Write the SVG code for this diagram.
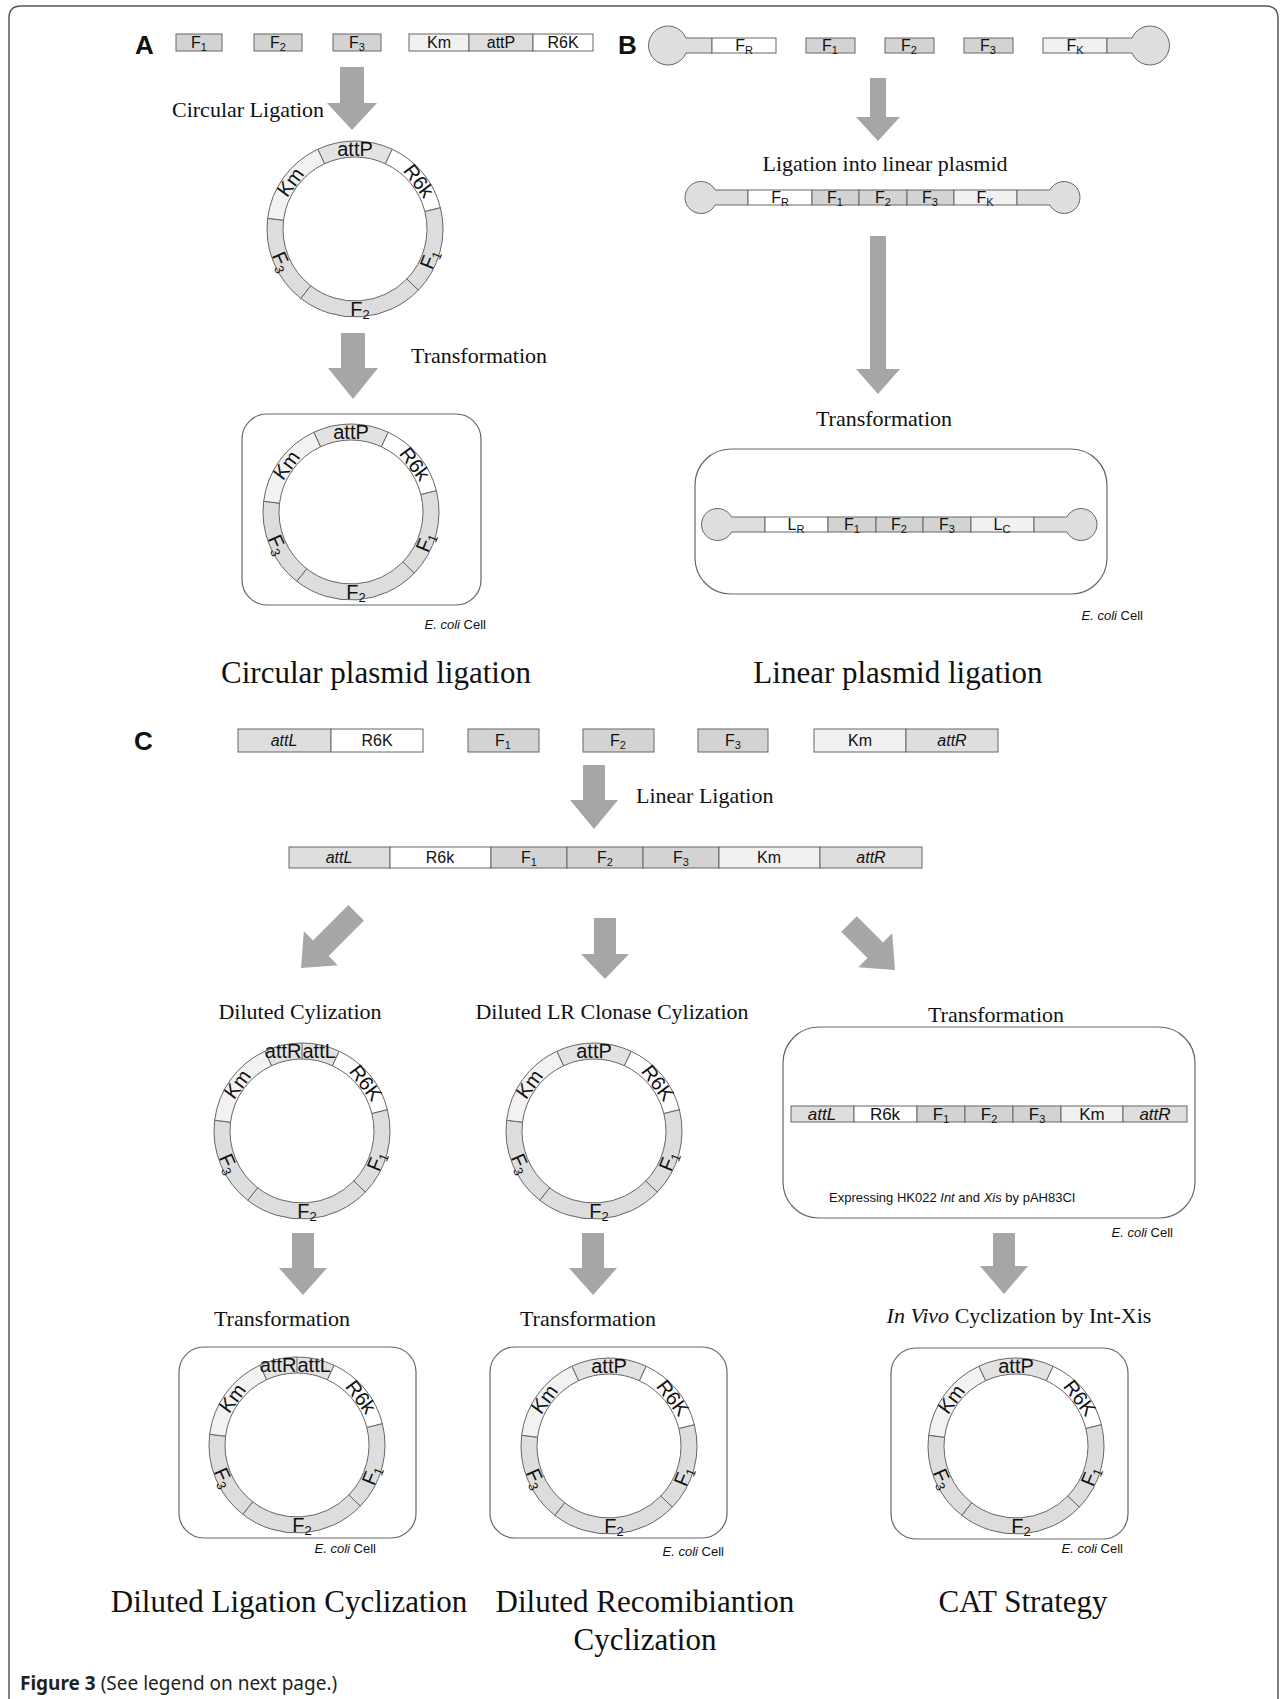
<svg xmlns="http://www.w3.org/2000/svg" width="1281" height="1699" viewBox="0 0 1281 1699">
<style>
.seg{stroke:#666;stroke-width:1}
.dk{fill:#d3d3d3}.md{fill:#dedede}.lt{fill:#f1f1f1}.wh{fill:#fff}
.rd{fill:#dddddd}.rm{fill:#e2e2e2}.rlt{fill:#f2f2f2}
.arr{fill:#a6a6a6}
.cell{fill:none;stroke:#666;stroke-width:1.2}
.lb{font-family:"Liberation Sans",Arial,sans-serif;font-size:16px;fill:#111;text-anchor:middle}
.lb17{font-family:"Liberation Sans",Arial,sans-serif;font-size:17px;fill:#111;text-anchor:middle}
.sb{font-size:11px}
.rs{font-size:13px}
.rl{font-family:"Liberation Sans",Arial,sans-serif;font-size:20px;fill:#111;text-anchor:middle}
.ser{font-family:"Liberation Serif","Times New Roman",serif;font-size:22px;fill:#111}
.ttl{font-family:"Liberation Serif","Times New Roman",serif;font-size:31px;fill:#111;text-anchor:middle}
.eco{font-family:"Liberation Sans",Arial,sans-serif;font-size:13px;fill:#111;text-anchor:end}
.pl{font-family:"Liberation Sans",Arial,sans-serif;font-size:26px;font-weight:bold;fill:#111}
</style>
<defs>
<g id="ringP" class="seg">
<path class="rm" d="M -37.19,-79.75 A 88 88 0 0 1 37.19,-79.75 L 30.43,-65.25 A 72 72 0 0 0 -30.43,-65.25 Z"/>
<path class="wh" d="M 37.19,-79.75 A 88 88 0 0 1 85.39,-21.29 L 69.86,-17.42 A 72 72 0 0 0 30.43,-65.25 Z"/>
<path class="rd" d="M 85.39,-21.29 A 88 88 0 0 1 63.30,61.13 L 51.79,50.02 A 72 72 0 0 0 69.86,-17.42 Z"/>
<path class="rd" d="M 63.30,61.13 A 88 88 0 0 1 -54.18,69.34 L -44.33,56.74 A 72 72 0 0 0 51.79,50.02 Z"/>
<path class="rd" d="M -54.18,69.34 A 88 88 0 0 1 -87.34,-10.73 L -71.46,-8.77 A 72 72 0 0 0 -44.33,56.74 Z"/>
<path class="rlt" d="M -87.34,-10.73 A 88 88 0 0 1 -37.19,-79.75 L -30.43,-65.25 A 72 72 0 0 0 -71.46,-8.77 Z"/>
</g>
<g id="ringRL">
<use href="#ringP"/>
<line class="seg" x1="0" y1="-88" x2="0" y2="-72"/>
</g>
</defs>

<path d="M 9,1699 V 18 Q 9,6 21,6 H 1266 Q 1278,6 1278,18 V 1699" fill="none" stroke="#555" stroke-width="1.5"/>

<!-- Panel labels -->
<text class="pl" x="135" y="54">A</text>
<text class="pl" x="618" y="54">B</text>
<text class="pl" x="134" y="750">C</text>

<!-- A row 1 -->
<g id="a-frags" class="seg">
<rect class="dk" x="176" y="34" width="46" height="17"/>
<rect class="dk" x="254" y="34" width="48" height="17"/>
<rect class="dk" x="333" y="34" width="48" height="17"/>
<rect class="lt" x="409" y="34" width="60" height="17"/>
<rect class="md" x="469" y="34" width="64" height="17"/>
<rect class="wh" x="533" y="34" width="60" height="17"/>
<g stroke="none">
<text class="lb" x="199" y="48">F<tspan class="sb" dy="3">1</tspan></text>
<text class="lb" x="278" y="48">F<tspan class="sb" dy="3">2</tspan></text>
<text class="lb" x="357" y="48">F<tspan class="sb" dy="3">3</tspan></text>
<text class="lb" x="439" y="48">Km</text>
<text class="lb" x="501" y="48">attP</text>
<text class="lb" x="563" y="48">R6K</text>
</g>
</g>

<!-- Connectors -->
<g id="connectors" class="arr">
<path d="M 340,67 H 364 V 103 H 377 L 352,130 L 327,103 H 340 Z"/>
<path d="M 341,333 H 365 V 368 H 378 L 353,399 L 328,368 H 341 Z"/>
<path d="M 870,78 H 886 V 117 H 900 L 878,141 L 856,117 H 870 Z"/>
<path d="M 870,236 H 886 V 369 H 900 L 878,394 L 856,369 H 870 Z"/>
<path d="M 583,765 H 605 V 800 H 618 L 594,829 L 570,800 H 583 Z"/>
<path d="M 594,918 H 616 V 954 H 629 L 605,979 L 581,954 H 594 Z"/>
<path transform="translate(301,968) rotate(45)" d="M -11,-78 H 11 V -28 H 24 L 0,0 L -24,-28 H -11 Z"/>
<path transform="translate(895,970) rotate(-45)" d="M -11,-65 H 11 V -28 H 24 L 0,0 L -24,-28 H -11 Z"/>
<path d="M 292,1233 H 314 V 1268 H 327 L 303,1295 L 279,1268 H 292 Z"/>
<path d="M 582,1233 H 604 V 1268 H 617 L 593,1295 L 569,1268 H 582 Z"/>
<path d="M 993,1233 H 1015 V 1266 H 1028 L 1004,1294 L 980,1266 H 993 Z"/>
</g>

<text class="ser" x="172" y="117">Circular Ligation</text>
<text class="ser" x="411" y="363">Transformation</text>

<!-- A plasmid 1 -->
<g id="a-plasmid" transform="translate(355,229)">
<use href="#ringP"/>
<text class="rl" x="0" y="-73">attP</text>
<text class="rl" transform="rotate(53) translate(0,-80)" y="7">R6k</text>
<text class="rl" transform="rotate(112) translate(0,-80) rotate(180)" y="7">F<tspan class="rs" dy="3">1</tspan></text>
<text class="rl" x="5" y="87">F<tspan class="rs" dy="3">2</tspan></text>
<text class="rl" transform="rotate(246) translate(0,-80) rotate(180)" y="7">F<tspan class="rs" dy="3">3</tspan></text>
<text class="rl" transform="rotate(306) translate(0,-80)" y="7">Km</text>
</g>

<!-- A cell -->
<g id="a-cell">
<rect class="cell" x="242" y="414" width="239" height="191" rx="25"/>
<g transform="translate(351,512)">
<use href="#ringP"/>
<text class="rl" x="0" y="-73">attP</text>
<text class="rl" transform="rotate(53) translate(0,-80)" y="7">R6k</text>
<text class="rl" transform="rotate(112) translate(0,-80) rotate(180)" y="7">F<tspan class="rs" dy="3">1</tspan></text>
<text class="rl" x="5" y="87">F<tspan class="rs" dy="3">2</tspan></text>
<text class="rl" transform="rotate(246) translate(0,-80) rotate(180)" y="7">F<tspan class="rs" dy="3">3</tspan></text>
<text class="rl" transform="rotate(306) translate(0,-80)" y="7">Km</text>
</g>
<text class="eco" x="486" y="629"><tspan font-style="italic">E. coli</tspan> Cell</text>
</g>
<text class="ttl" x="376" y="683">Circular plasmid ligation</text>

<!-- B row 1 -->
<g id="b-frags" class="seg">
<path class="md" d="M 712,38 H 686 A 19.5 19.5 0 1 0 686,53 H 712 Z"/>
<rect class="wh" x="712" y="38" width="64" height="15"/>
<rect class="dk" x="806" y="38" width="49" height="15"/>
<rect class="dk" x="885" y="38" width="49" height="15"/>
<rect class="dk" x="964" y="38" width="49" height="15"/>
<rect class="lt" x="1043" y="38" width="64" height="15"/>
<path class="md" d="M 1107,38 H 1132 A 19.5 19.5 0 1 1 1132,53 H 1107 Z"/>
<g stroke="none">
<text class="lb" x="744" y="51">F<tspan class="sb" dy="3">R</tspan></text>
<text class="lb" x="830" y="51">F<tspan class="sb" dy="3">1</tspan></text>
<text class="lb" x="909" y="51">F<tspan class="sb" dy="3">2</tspan></text>
<text class="lb" x="988" y="51">F<tspan class="sb" dy="3">3</tspan></text>
<text class="lb" x="1075" y="51">F<tspan class="sb" dy="3">K</tspan></text>
</g>
</g>

<text class="ser" x="885" y="171" text-anchor="middle">Ligation into linear plasmid</text>

<!-- B linear plasmid -->
<g id="b-linear" class="seg">
<path class="md" d="M 748,190 H 715.13 A 16 16 0 1 0 715.13,205 H 748 Z"/>
<rect class="wh" x="748" y="190" width="64" height="15"/>
<rect class="dk" x="812" y="190" width="47" height="15"/>
<rect class="dk" x="859" y="190" width="48" height="15"/>
<rect class="dk" x="907" y="190" width="47" height="15"/>
<rect class="lt" x="954" y="190" width="63" height="15"/>
<path class="md" d="M 1017,190 H 1049.87 A 16 16 0 1 1 1049.87,205 H 1017 Z"/>
<g stroke="none">
<text class="lb" x="780" y="203">F<tspan class="sb" dy="3">R</tspan></text>
<text class="lb" x="835" y="203">F<tspan class="sb" dy="3">1</tspan></text>
<text class="lb" x="883" y="203">F<tspan class="sb" dy="3">2</tspan></text>
<text class="lb" x="930" y="203">F<tspan class="sb" dy="3">3</tspan></text>
<text class="lb" x="985" y="203">F<tspan class="sb" dy="3">K</tspan></text>
</g>
</g>

<text class="ser" x="884" y="426" text-anchor="middle">Transformation</text>

<!-- B cell -->
<g id="b-cell">
<rect class="cell" x="695" y="449" width="412" height="145" rx="36"/>
<g class="seg">
<path class="md" d="M 765,517 H 731.63 A 16 16 0 1 0 731.63,532 H 765 Z"/>
<rect class="wh" x="765" y="517" width="63" height="15"/>
<rect class="dk" x="828" y="517" width="48" height="15"/>
<rect class="dk" x="876" y="517" width="47" height="15"/>
<rect class="dk" x="923" y="517" width="48" height="15"/>
<rect class="lt" x="971" y="517" width="63" height="15"/>
<path class="md" d="M 1034,517 H 1066.87 A 16 16 0 1 1 1066.87,532 H 1034 Z"/>
</g>
<text class="lb" x="796" y="530">L<tspan class="sb" dy="3">R</tspan></text>
<text class="lb" x="852" y="530">F<tspan class="sb" dy="3">1</tspan></text>
<text class="lb" x="899" y="530">F<tspan class="sb" dy="3">2</tspan></text>
<text class="lb" x="947" y="530">F<tspan class="sb" dy="3">3</tspan></text>
<text class="lb" x="1002" y="530">L<tspan class="sb" dy="3">C</tspan></text>
<text class="eco" x="1143" y="620"><tspan font-style="italic">E. coli</tspan> Cell</text>
</g>
<text class="ttl" x="898" y="683">Linear plasmid ligation</text>

<!-- C row 1 -->
<g id="c-frags" class="seg">
<rect class="md" x="238" y="729" width="93" height="23"/>
<rect class="wh" x="331" y="729" width="92" height="23"/>
<rect class="dk" x="468" y="729" width="71" height="23"/>
<rect class="dk" x="583" y="729" width="71" height="23"/>
<rect class="dk" x="698" y="729" width="70" height="23"/>
<rect class="lt" x="814" y="729" width="92" height="23"/>
<rect class="md" x="906" y="729" width="92" height="23"/>
<g stroke="none">
<text class="lb" x="284" y="746" font-style="italic">attL</text>
<text class="lb" x="377" y="746">R6K</text>
<text class="lb" x="503" y="746">F<tspan class="sb" dy="3">1</tspan></text>
<text class="lb" x="618" y="746">F<tspan class="sb" dy="3">2</tspan></text>
<text class="lb" x="733" y="746">F<tspan class="sb" dy="3">3</tspan></text>
<text class="lb" x="860" y="746">Km</text>
<text class="lb" x="952" y="746" font-style="italic">attR</text>
</g>
</g>
<text class="ser" x="636" y="803">Linear Ligation</text>

<!-- C row 2 -->
<g id="c-linear" class="seg">
<rect class="md" x="289" y="847" width="101" height="21"/>
<rect class="wh" x="390" y="847" width="101" height="21"/>
<rect class="dk" x="491" y="847" width="76" height="21"/>
<rect class="dk" x="567" y="847" width="76" height="21"/>
<rect class="dk" x="643" y="847" width="76" height="21"/>
<rect class="lt" x="719" y="847" width="101" height="21"/>
<rect class="md" x="820" y="847" width="102" height="21"/>
<g stroke="none">
<text class="lb" x="339" y="863" font-style="italic">attL</text>
<text class="lb" x="440" y="863">R6k</text>
<text class="lb" x="529" y="863">F<tspan class="sb" dy="3">1</tspan></text>
<text class="lb" x="605" y="863">F<tspan class="sb" dy="3">2</tspan></text>
<text class="lb" x="681" y="863">F<tspan class="sb" dy="3">3</tspan></text>
<text class="lb" x="769" y="863">Km</text>
<text class="lb" x="871" y="863" font-style="italic">attR</text>
</g>
</g>

<text class="ser" x="300" y="1019" text-anchor="middle">Diluted Cylization</text>
<text class="ser" x="612" y="1019" text-anchor="middle">Diluted LR Clonase Cylization</text>
<text class="ser" x="996" y="1022" text-anchor="middle">Transformation</text>

<!-- C plasmid 1 -->
<g id="c-plasmid1" transform="translate(302,1131)">
<use href="#ringRL"/>
<text class="rl" x="-0.5" y="-73" style="text-anchor:end">attR</text>
<text class="rl" x="0.5" y="-73" style="text-anchor:start">attL</text>
<text class="rl" transform="rotate(53) translate(0,-80)" y="7">R6K</text>
<text class="rl" transform="rotate(112) translate(0,-80) rotate(180)" y="7">F<tspan class="rs" dy="3">1</tspan></text>
<text class="rl" x="5" y="87">F<tspan class="rs" dy="3">2</tspan></text>
<text class="rl" transform="rotate(246) translate(0,-80) rotate(180)" y="7">F<tspan class="rs" dy="3">3</tspan></text>
<text class="rl" transform="rotate(306) translate(0,-80)" y="7">Km</text>
</g>

<!-- C plasmid 2 -->
<g id="c-plasmid2" transform="translate(594,1131)">
<use href="#ringP"/>
<text class="rl" x="0" y="-73">attP</text>
<text class="rl" transform="rotate(53) translate(0,-80)" y="7">R6K</text>
<text class="rl" transform="rotate(112) translate(0,-80) rotate(180)" y="7">F<tspan class="rs" dy="3">1</tspan></text>
<text class="rl" x="5" y="87">F<tspan class="rs" dy="3">2</tspan></text>
<text class="rl" transform="rotate(246) translate(0,-80) rotate(180)" y="7">F<tspan class="rs" dy="3">3</tspan></text>
<text class="rl" transform="rotate(306) translate(0,-80)" y="7">Km</text>
</g>

<!-- C right cell with linear -->
<g id="c-cell-linear">
<rect class="cell" x="783" y="1027" width="412" height="191" rx="36"/>
<g class="seg">
<rect class="md" x="791" y="1106" width="63" height="16"/>
<rect class="wh" x="854" y="1106" width="63" height="16"/>
<rect class="dk" x="917" y="1106" width="48" height="16"/>
<rect class="dk" x="965" y="1106" width="48" height="16"/>
<rect class="dk" x="1013" y="1106" width="48" height="16"/>
<rect class="lt" x="1061" y="1106" width="62" height="16"/>
<rect class="md" x="1123" y="1106" width="64" height="16"/>
</g>
<text class="lb17" x="822" y="1120" font-style="italic">attL</text>
<text class="lb17" x="885" y="1120">R6k</text>
<text class="lb17" x="941" y="1120">F<tspan class="sb" dy="3">1</tspan></text>
<text class="lb17" x="989" y="1120">F<tspan class="sb" dy="3">2</tspan></text>
<text class="lb17" x="1037" y="1120">F<tspan class="sb" dy="3">3</tspan></text>
<text class="lb17" x="1092" y="1120">Km</text>
<text class="lb17" x="1155" y="1120" font-style="italic">attR</text>
<text x="829" y="1202" font-family="Liberation Sans, Arial, sans-serif" font-size="13" fill="#111">Expressing HK022 <tspan font-style="italic">Int</tspan> and <tspan font-style="italic">Xis</tspan> by pAH83CI</text>
<text class="eco" x="1173" y="1237"><tspan font-style="italic">E. coli</tspan> Cell</text>
</g>

<text class="ser" x="282" y="1326" text-anchor="middle">Transformation</text>
<text class="ser" x="588" y="1326" text-anchor="middle">Transformation</text>
<text class="ser" x="1019" y="1323" text-anchor="middle"><tspan font-style="italic">In Vivo</tspan> Cyclization by Int-Xis</text>

<!-- C cell 1 -->
<g id="c-cell1">
<rect class="cell" x="179" y="1347" width="237" height="191" rx="25"/>
<g transform="translate(297,1445)">
<use href="#ringRL"/>
<text class="rl" x="-0.5" y="-73" style="text-anchor:end">attR</text>
<text class="rl" x="0.5" y="-73" style="text-anchor:start">attL</text>
<text class="rl" transform="rotate(53) translate(0,-80)" y="7">R6k</text>
<text class="rl" transform="rotate(112) translate(0,-80) rotate(180)" y="7">F<tspan class="rs" dy="3">1</tspan></text>
<text class="rl" x="5" y="87">F<tspan class="rs" dy="3">2</tspan></text>
<text class="rl" transform="rotate(246) translate(0,-80) rotate(180)" y="7">F<tspan class="rs" dy="3">3</tspan></text>
<text class="rl" transform="rotate(306) translate(0,-80)" y="7">Km</text>
</g>
<text class="eco" x="376" y="1553"><tspan font-style="italic">E. coli</tspan> Cell</text>
</g>

<!-- C cell 2 -->
<g id="c-cell2">
<rect class="cell" x="490" y="1347" width="237" height="191" rx="25"/>
<g transform="translate(609,1446)">
<use href="#ringP"/>
<text class="rl" x="0" y="-73">attP</text>
<text class="rl" transform="rotate(53) translate(0,-80)" y="7">R6K</text>
<text class="rl" transform="rotate(112) translate(0,-80) rotate(180)" y="7">F<tspan class="rs" dy="3">1</tspan></text>
<text class="rl" x="5" y="87">F<tspan class="rs" dy="3">2</tspan></text>
<text class="rl" transform="rotate(246) translate(0,-80) rotate(180)" y="7">F<tspan class="rs" dy="3">3</tspan></text>
<text class="rl" transform="rotate(306) translate(0,-80)" y="7">Km</text>
</g>
<text class="eco" x="724" y="1556"><tspan font-style="italic">E. coli</tspan> Cell</text>
</g>

<!-- C cell 3 -->
<g id="c-cell3">
<rect class="cell" x="891" y="1348" width="237" height="191" rx="25"/>
<g transform="translate(1016,1446)">
<use href="#ringP"/>
<text class="rl" x="0" y="-73">attP</text>
<text class="rl" transform="rotate(53) translate(0,-80)" y="7">R6K</text>
<text class="rl" transform="rotate(112) translate(0,-80) rotate(180)" y="7">F<tspan class="rs" dy="3">1</tspan></text>
<text class="rl" x="5" y="87">F<tspan class="rs" dy="3">2</tspan></text>
<text class="rl" transform="rotate(246) translate(0,-80) rotate(180)" y="7">F<tspan class="rs" dy="3">3</tspan></text>
<text class="rl" transform="rotate(306) translate(0,-80)" y="7">Km</text>
</g>
<text class="eco" x="1123" y="1553"><tspan font-style="italic">E. coli</tspan> Cell</text>
</g>

<text class="ttl" x="289" y="1612">Diluted Ligation Cyclization</text>
<text class="ttl" x="645" y="1612">Diluted Recomibiantion</text>
<text class="ttl" x="645" y="1650">Cyclization</text>
<text class="ttl" x="1023" y="1612">CAT Strategy</text>

<text x="20" y="1690" font-family="Noto Sans, Open Sans, sans-serif" font-size="19" fill="#231f20"><tspan font-weight="bold">Figure 3</tspan> (See legend on next page.)</text>
</svg>
